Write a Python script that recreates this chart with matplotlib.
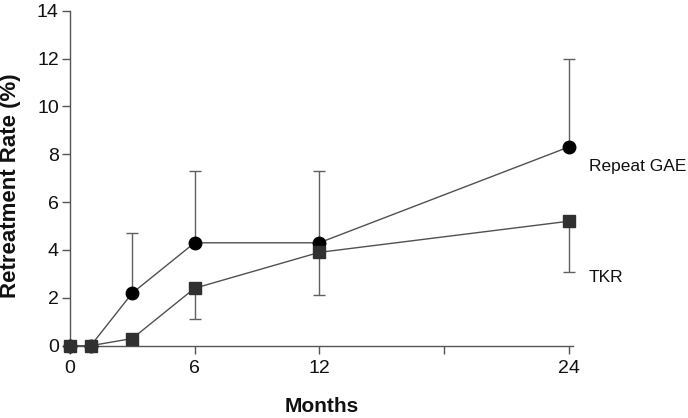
import numpy as np
import matplotlib
matplotlib.use("Agg")
import matplotlib.pyplot as plt

plt.rcParams['font.family'] = ['Liberation Sans', 'DejaVu Sans']

# datos
meses = [0, 1, 3, 6, 12, 24]
gae = [0, 0, 2.2, 4.3, 4.3, 8.3]
gae_sup = [np.nan, np.nan, 4.7, 7.3, 7.3, 12.0]   # límite superior
tkr = [0, 0, 0.3, 2.4, 3.9, 5.2]
tkr_inf = [np.nan, np.nan, np.nan, 1.1, 2.1, 3.1]  # límite inferior

xticks = [0, 6, 12, 18, 24]
xtick_labels = ['0', '6', '12', '', '24']
yticks = [0, 2, 4, 6, 8, 10, 12, 14]

m = np.array(meses, dtype=float)
g = np.array(gae)
t = np.array(tkr)
gs = np.array(gae_sup)
ti = np.array(tkr_inf)

fig = plt.figure(figsize=(6.88, 4.18), dpi=100)
ax = fig.add_axes([0.1017, 0.173, 0.8324 - 0.1017, 0.9744 - 0.173])

cor_linha = '#505050'
cor_erro = '#606060'

# barras de erro (só um lado)
mk = ~np.isnan(gs)
ax.errorbar(m[mk], g[mk], yerr=[np.zeros(mk.sum()), gs[mk] - g[mk]], fmt='none',
            ecolor=cor_erro, elinewidth=1, capsize=4, capthick=1, clip_on=False, zorder=2)
mk2 = ~np.isnan(ti)
ax.errorbar(m[mk2], t[mk2], yerr=[t[mk2] - ti[mk2], np.zeros(mk2.sum())], fmt='none',
            ecolor=cor_erro, elinewidth=1, capsize=4, capthick=1, clip_on=False, zorder=2)

ax.plot(m, g, color=cor_linha, lw=1, marker='o', markersize=9,
        markerfacecolor='black', markeredgecolor='black', clip_on=False, zorder=3)
ax.plot(m, t, color=cor_linha, lw=1, marker='s', markersize=8.5,
        markerfacecolor='#303030', markeredgecolor='#303030', clip_on=False, zorder=4)

ax.text(24.97, 7.47, 'Repeat GAE', fontsize=12.5, va='center', ha='left', color='#111111')
ax.text(24.97, 2.87, 'TKR', fontsize=12.5, va='center', ha='left', color='#111111')

ax.set_xlim(0, 24.2)
ax.set_ylim(0, 14)
ax.set_xticks(xticks)
ax.set_xticklabels(xtick_labels)
ax.set_yticks(yticks)

for s in ['top', 'right']:
    ax.spines[s].set_visible(False)
for s in ['left', 'bottom']:
    ax.spines[s].set_color('#555555')
    ax.spines[s].set_linewidth(1)

ax.tick_params(axis='both', direction='out', color='#555555', width=1, length=6,
               labelsize=14, labelcolor='#111111')
ax.tick_params(axis='x', pad=4)
ax.tick_params(axis='y', pad=2)

ax.set_xlabel('Months', fontsize=15, fontweight='bold', color='#111111')
ax.set_ylabel('Retreatment Rate (%)', fontsize=16, fontweight='bold', color='#111111')
ax.xaxis.set_label_coords(0.5, -0.153)
ax.yaxis.set_label_coords(-0.097, 0.478)

fig.savefig('out.png', dpi=100)
